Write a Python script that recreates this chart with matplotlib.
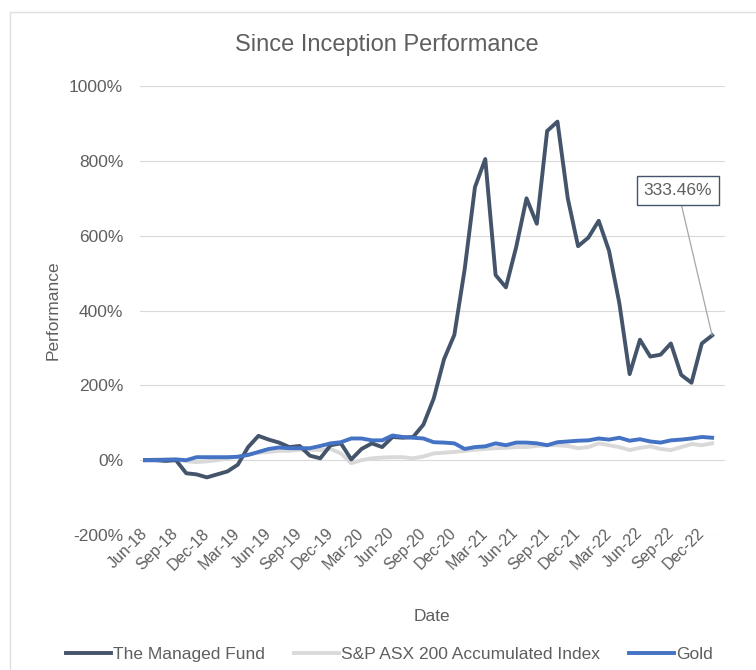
import numpy as np
import pandas as pd
import matplotlib
matplotlib.use("Agg")
import matplotlib.pyplot as plt
from matplotlib.patches import Rectangle

plt.rcParams['font.family'] = ['Liberation Sans', 'DejaVu Sans']

# Monthly dates, Jun-18 to Jan-23
dates = pd.date_range("2018-06-01", "2023-01-01", freq="MS")
tick_labels = ["Jun-18", "Sep-18", "Dec-18", "Mar-19", "Jun-19", "Sep-19", "Dec-19",
               "Mar-20", "Jun-20", "Sep-20", "Dec-20", "Mar-21", "Jun-21", "Sep-21",
               "Dec-21", "Mar-22", "Jun-22", "Sep-22", "Dec-22"]

# Performance in %
managed_fund = [0, 0, -2, 0, -35, -38, -46, -38, -30, -12,
                35, 65, 55, 47, 35, 38, 12, 5, 40, 45,
                2, 30, 45, 35, 62, 60, 62, 95, 165, 270,
                335, 510, 730, 805, 495, 462, 570, 700, 632, 880,
                905, 700, 572, 595, 640, 560, 420, 230, 322, 277,
                282, 312, 228, 207, 312, 333.46]
asx200 = [0, 2, 3, 2, -3, -5, -3, 0, 5, 10,
          15, 20, 22, 25, 25, 28, 28, 27, 30, 18,
          -8, 0, 5, 7, 8, 8, 5, 10, 18, 20,
          22, 25, 28, 30, 32, 33, 35, 35, 38, 40,
          40, 38, 32, 35, 45, 40, 35, 27, 33, 37,
          30, 27, 35, 43, 40, 45]
gold = [0, 0, 1, 2, 0, 8, 8, 8, 8, 9,
        14, 22, 30, 34, 32, 32, 32, 38, 45, 48,
        58, 58, 53, 53, 66, 62, 60, 58, 48, 47,
        45, 30, 35, 37, 45, 40, 47, 47, 45, 40,
        48, 50, 52, 53, 58, 55, 60, 52, 56, 50,
        47, 53, 55, 58, 62, 60]

text_col = "#5f5f5f"
fig = plt.figure(figsize=(7.56, 6.7), dpi=100)
ax = fig.add_axes([0.185, 0.2015, 0.774, 0.67])

x = np.arange(len(dates))
ax.plot(x, managed_fund, color="#44546A", lw=2.8, label="The Managed Fund", zorder=3)
ax.plot(x, asx200, color="#D9D9D9", lw=2.8, label="S&P ASX 200 Accumulated Index", zorder=2)
ax.plot(x, gold, color="#4472C4", lw=2.8, label="Gold", zorder=4)

ax.set_ylim(-200, 1000)
ax.set_yticks(range(-200, 1001, 200))
ax.set_yticklabels([f"{v}%" for v in range(-200, 1001, 200)])
ax.set_xlim(-0.5, 56.25)
ax.set_xticks(x[::3])
ax.set_xticklabels(tick_labels, rotation=45, ha="right", va="center",
                   rotation_mode="anchor")
ax.grid(axis="y", color="#D9D9D9", lw=0.8)
ax.set_axisbelow(True)
for s in ax.spines.values():
    s.set_visible(False)
ax.tick_params(length=0, colors=text_col)
ax.tick_params(axis="y", pad=12, labelsize=12.5)
ax.tick_params(axis="x", pad=-3, labelsize=11.5)

fig.text(387 / 756, 1 - 45 / 670, "Since Inception Performance", fontsize=17,
         color=text_col, ha="center", va="center")
ax.set_ylabel("Performance", fontsize=12.5, color=text_col, labelpad=6)
ax.set_xlabel("Date", fontsize=12.5, color=text_col, labelpad=26)

# label on the last point
ax.annotate(f"{managed_fund[-1]:.2f}%", xy=(x[-1], managed_fund[-1]),
            xytext=(x[-1] - 3.3, 720), ha="center", va="center",
            fontsize=12.5, color=text_col,
            bbox=dict(boxstyle="square,pad=0.4", fc="white", ec="#44546A", lw=1),
            arrowprops=dict(arrowstyle="-", color="#A6A6A6", lw=0.9, shrinkA=0, shrinkB=0))

fig.legend(loc="lower center", bbox_to_anchor=(0.515, -0.012), ncol=3, frameon=False,
           fontsize=12.5, handlelength=2.6, handletextpad=0.1, columnspacing=1.7,
           labelcolor=text_col)

# outer chart border
fig.patches.append(Rectangle((10 / 756, -0.01), 1.0, 1 - 12 / 670 + 0.01,
                             transform=fig.transFigure, fill=False,
                             ec="#E0E0E0", lw=1))

fig.savefig("out.png", dpi=100)
